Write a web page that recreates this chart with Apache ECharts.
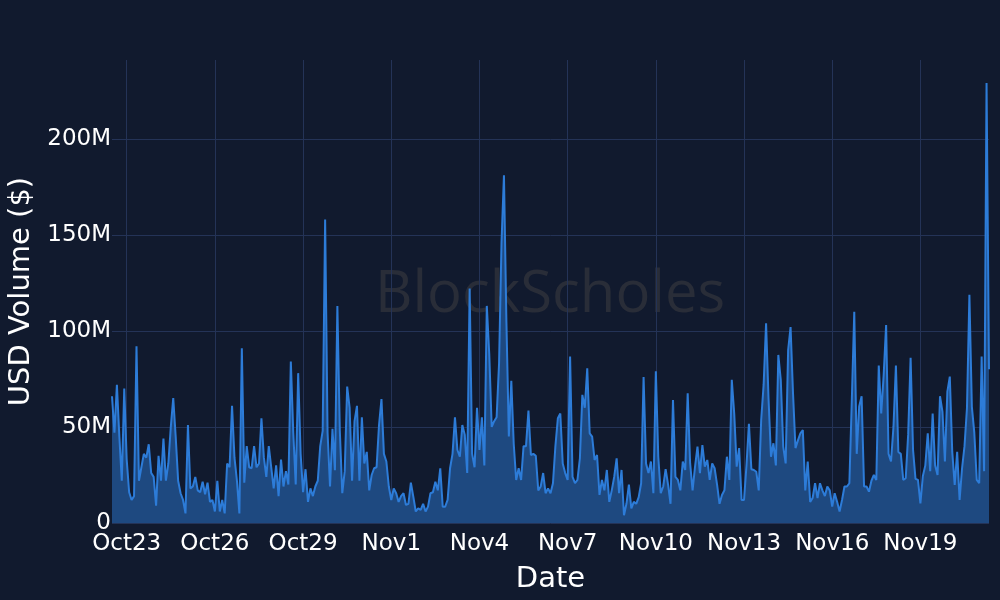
<!DOCTYPE html>
<html>
<head>
<meta charset="utf-8">
<script src="https://cdn.jsdelivr.net/npm/echarts@6/dist/echarts.min.js"></script>
<style>
html,body{margin:0;padding:0;background:#111a2e;}
#chart{width:1000px;height:600px;}
</style>
</head>
<body>
<div id="chart"></div>
<script>
// 2-hourly USD volume, in millions of USD, starting 2023-10-22 12:00 UTC
const startUTC = Date.UTC(2023, 9, 22, 12);
const stepHours = 2;
const volumeM = [
  66, 47, 72, 45, 22, 70, 33, 16, 12, 14, 92, 22,
  29, 36, 34, 41, 26, 24, 9, 35, 22, 44, 22, 31,
  50, 65, 45, 22, 15.5, 12, 5, 51, 18, 19, 24, 17,
  16, 21.5, 15, 21, 11, 12, 6, 22, 6, 12, 5, 31,
  29, 61, 34, 22, 5, 91, 21, 40, 29, 28.5, 40, 29,
  31, 54.5, 34, 24, 40, 29, 18, 30, 14, 33, 19, 27,
  20, 84, 47, 20, 78, 36, 16, 28, 11, 18, 14, 19,
  22, 40, 48, 158, 47, 19, 49, 27.5, 113, 48, 15.5, 27,
  71, 60, 22, 53, 61, 22, 55, 31, 37, 17, 25, 28.5,
  29, 51, 64.5, 36, 32, 19, 12, 18, 15.5, 11, 14, 15.5,
  9.4, 10, 21, 13.7, 6, 7.6, 6.8, 10, 6, 8.5, 15.5, 16,
  21.5, 17, 28.5, 8.5, 8.5, 12, 28.5, 36, 55, 38, 34.5, 51,
  46, 26, 122, 36, 29, 60, 38, 55, 30, 113, 88, 50,
  53, 55, 83, 146, 181, 105, 45, 74, 41, 22.4, 28.5, 22.4,
  40, 40, 58.5, 35.4, 36, 35, 17, 19, 26, 15.5, 18, 15.5,
  20.7, 40, 54.5, 57, 31, 26, 22.4, 86.6, 24, 20.7, 22.4, 33.7,
  66.7, 60, 80.5, 46.7, 45, 32.8, 35.4, 14.6, 22.4, 17, 27.6, 11,
  17, 24, 33.7, 15.5, 27.6, 4, 10, 20, 7.6, 11, 10, 13.5,
  20.7, 76, 31, 26, 32, 15.5, 79, 34.5, 15.5, 19, 28, 20,
  10, 64, 24, 22.4, 17, 32, 27.6, 67.5, 31, 17, 29.3, 39.8,
  26, 40.6, 29.3, 32.8, 22.4, 31, 28.5, 20, 10, 14.6, 17, 34.5,
  22.4, 74.5, 57, 29.3, 39, 12, 12, 30, 51.6, 28, 27.6, 26.7,
  17, 53.6, 72, 104, 65, 34.5, 41.5, 30, 87.5, 74.5, 39.8, 31,
  90, 102, 67.5, 39, 43, 46.7, 48.4, 17, 32, 11, 13, 20.7,
  13, 20.7, 17, 14, 19, 17, 8.5, 15.5, 11, 6, 12, 19,
  19, 20.7, 64, 110, 36, 60.6, 66, 19, 19, 16.3, 22, 25,
  22.4, 82, 57, 77, 103, 36, 32, 50, 82, 37, 36, 22.4,
  23.3, 46, 86, 38, 23, 22.4, 10.2, 24.5, 30, 46.7, 27, 57,
  30, 25, 66, 58, 32, 68.4, 76.2, 37, 19.8, 37, 12, 28.5,
  40, 59.7, 118.8, 60.6, 47, 22.4, 20.7, 86.6, 27, 229, 80
];
const tickDates = ['2023-10-23 00:00','2023-10-26 00:00','2023-10-29 00:00','2023-11-01 00:00','2023-11-04 00:00',
                   '2023-11-07 00:00','2023-11-10 00:00','2023-11-13 00:00','2023-11-16 00:00','2023-11-19 00:00'];
const tickLabels = ['Oct23','Oct26','Oct29','Nov1','Nov4','Nov7','Nov10','Nov13','Nov16','Nov19'];
const yTicks = [0, 50, 100, 150, 200];

const categories = volumeM.map((_, i) =>
  new Date(startUTC + i * stepHours * 3600e3).toISOString().slice(0, 16).replace('T', ' '));
const tickMap = {};
tickDates.forEach((d, k) => { const idx = categories.indexOf(d); if (idx >= 0) tickMap[idx] = tickLabels[k]; });
const isTick = (idx) => tickMap[idx] !== undefined;

const FONT = '"DejaVu Sans", Verdana, sans-serif';
const chart = echarts.init(document.getElementById('chart'), null, {renderer: 'canvas'});
chart.setOption({
  animation: false,
  backgroundColor: '#111a2e',
  grid: {left: 112, right: 11, top: 60, bottom: 77, containLabel: false, outerBoundsMode: 'none'},
  graphic: [{
    type: 'text', left: 375, top: 266, z: 0, silent: true,
    style: {text: 'BlockScholes', fontSize: 58, fontFamily: '"Open Sans"', fontWeight: 400, fill: '#292d38'}
  }],
  xAxis: {
    type: 'category', data: categories, boundaryGap: false,
    axisLine: {show: false}, axisTick: {show: false},
    axisLabel: {
      interval: (idx) => isTick(idx), formatter: (v, idx) => tickMap[idx] || '',
      color: '#ffffff', fontSize: 23, fontFamily: FONT, margin: 10
    },
    splitLine: {show: true, interval: (idx) => isTick(idx), lineStyle: {color: '#243357', width: 1}},
    name: 'Date', nameLocation: 'middle', nameGap: 42,
    nameTextStyle: {color: '#ffffff', fontSize: 29, fontFamily: FONT}
  },
  yAxis: {
    type: 'value', min: 0, max: 241, interval: 50,
    axisLine: {show: false}, axisTick: {show: false},
    axisLabel: {color: '#ffffff', fontSize: 23, fontFamily: FONT, margin: 1,
      showMaxLabel: false,
      formatter: (v) => yTicks.includes(v) ? (v === 0 ? '0' : v + 'M') : ''},
    splitLine: {showMaxLine: false, lineStyle: {color: '#243357', width: 1}},
    name: 'USD Volume ($)', nameLocation: 'middle', nameGap: 76,
    nameTextStyle: {color: '#ffffff', fontSize: 29, fontFamily: FONT}
  },
  series: [{
    type: 'line', data: volumeM, showSymbol: false, smooth: false,
    lineStyle: {color: '#2d7cd8', width: 2},
    itemStyle: {color: '#2d7cd8'},
    areaStyle: {color: '#1e4980', opacity: 1}
  }]
});
</script>
</body>
</html>
